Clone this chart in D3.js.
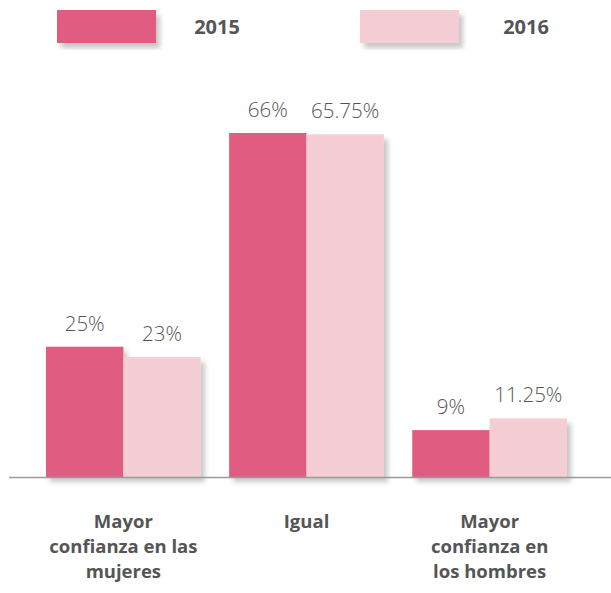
<!DOCTYPE html>
<html>
<head>
<meta charset="utf-8">
<script src="https://cdn.jsdelivr.net/npm/d3@7"></script>
<style>
  body { margin: 0; background: #fff; }
</style>
</head>
<body>
<script>
// data
let categories = ["mujeres", "igual", "hombres"];
let categoryLines = [
  ["Mayor", "confianza en las", "mujeres"],
  ["Igual"],
  ["Mayor", "confianza en", "los hombres"]
];
let years = ["2015", "2016"];
let values2015 = [25, 66, 9];
let values2016 = [23, 65.75, 11.25];
let labels2015 = ["25%", "66%", "9%"];
let labels2016 = ["23%", "65.75%", "11.25%"];

let colors = { "2015": "#e05d81", "2016": "#f4cdd5" };
let textColor = "#555";

let svg = d3.select("body")
  .append("svg")
  .attr("width", 611)
  .attr("height", 593);

// soft shadow used on bars and legend boxes
let defs = svg.append("defs");
let f = defs.append("filter")
  .attr("id", "shadow")
  .attr("x", "-10%").attr("y", "-10%")
  .attr("width", "130%").attr("height", "130%");
f.append("feDropShadow")
  .attr("dx", 4).attr("dy", 5)
  .attr("stdDeviation", 2.5)
  .attr("flood-color", "#000")
  .attr("flood-opacity", 0.22);

let baseY = 477;

let x = d3.scaleBand()
  .domain(categories)
  .range([46, 567])
  .paddingInner(0.155)
  .paddingOuter(0);

let xInner = d3.scaleBand()
  .domain(years)
  .range([0, x.bandwidth()]);

let y = d3.scaleLinear()
  .domain([0, 66])
  .range([baseY, 133]);

let rows = categories.map((c, i) => ({
  cat: c,
  vals: [
    { year: "2015", v: values2015[i], label: labels2015[i] },
    { year: "2016", v: values2016[i], label: labels2016[i] }
  ]
}));

// bars
let groups = svg.selectAll("g.grp")
  .data(rows)
  .enter()
  .append("g")
  .attr("class", "grp")
  .attr("transform", d => `translate(${x(d.cat)},0)`);

groups.selectAll("rect")
  .data(d => d.vals)
  .enter()
  .append("rect")
  .attr("x", d => xInner(d.year))
  .attr("y", d => y(d.v))
  .attr("width", xInner.bandwidth())
  .attr("height", d => baseY - y(d.v))
  .style("fill", d => colors[d.year])
  .attr("filter", "url(#shadow)");

// value labels
groups.selectAll("text")
  .data(d => d.vals)
  .enter()
  .append("text")
  .attr("x", d => xInner(d.year) + xInner.bandwidth() / 2)
  .attr("y", d => y(d.v) - 16)
  .attr("text-anchor", "middle")
  .style("font-family", "'Open Sans', sans-serif")
  .style("font-weight", 300)
  .style("font-size", "20.5px")
  .style("fill", textColor)
  .text(d => d.label);

// baseline
svg.append("line")
  .attr("x1", 9).attr("x2", 611)
  .attr("y1", baseY + 0.5).attr("y2", baseY + 0.5)
  .style("stroke", "#9a9a9a")
  .style("stroke-width", 1.5);

// category labels
let catLabels = svg.selectAll("text.cat")
  .data(categories)
  .enter()
  .append("text")
  .attr("class", "cat")
  .attr("text-anchor", "middle")
  .style("font-family", "'Open Sans', sans-serif")
  .style("font-weight", 700)
  .style("font-size", "18.5px")
  .style("fill", textColor);

catLabels.each(function (c, i) {
  let t = d3.select(this);
  categoryLines[i].forEach((line, j) => {
    t.append("tspan")
      .attr("x", x(c) + x.bandwidth() / 2)
      .attr("y", 528 + j * 25)
      .text(line);
  });
});

// legend
let legendX = [57, 360];
let legendTextX = [160, 166];
let legend = svg.selectAll("g.leg")
  .data(years)
  .enter()
  .append("g")
  .attr("class", "leg")
  .attr("transform", (d, i) => `translate(${legendX[i]},10)`);

legend.append("rect")
  .attr("width", 99)
  .attr("height", 33)
  .style("fill", d => colors[d])
  .attr("filter", "url(#shadow)");

legend.append("text")
  .attr("x", (d, i) => legendTextX[i])
  .attr("y", 24)
  .attr("text-anchor", "middle")
  .style("font-family", "'Open Sans', sans-serif")
  .style("font-weight", 700)
  .style("font-size", "20px")
  .style("fill", textColor)
  .text(d => d);
</script>
</body>
</html>
